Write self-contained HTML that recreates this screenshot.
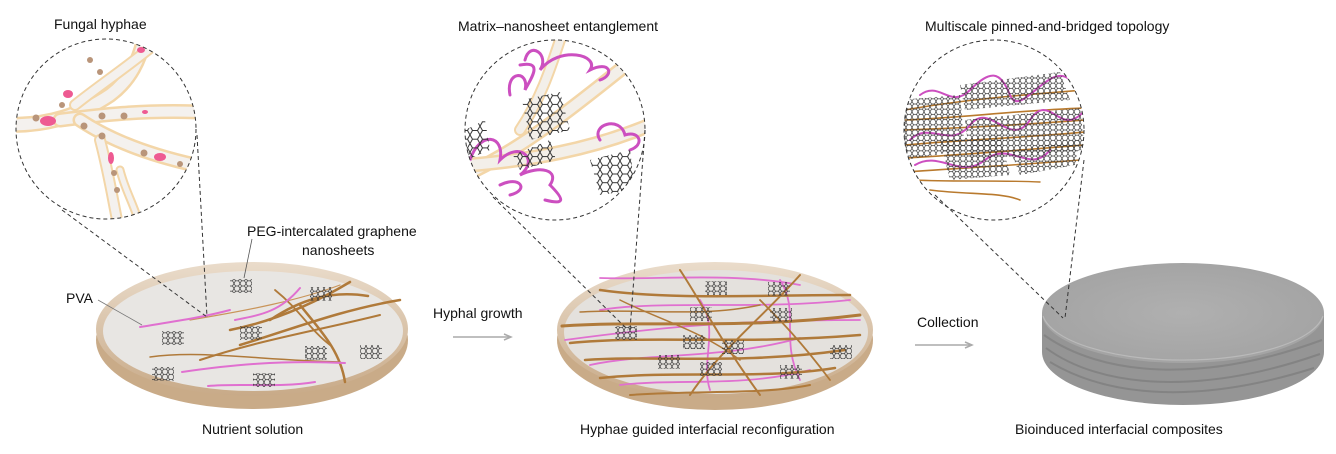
<!DOCTYPE html>
<html><head><meta charset="utf-8"><style>
html,body{margin:0;padding:0;background:#fff;}
svg{display:block}
text{font-family:"Liberation Sans",Arial,sans-serif;font-size:14px;fill:#111}
</style></head><body>
<svg width="1336" height="454" viewBox="0 0 1336 454" xmlns="http://www.w3.org/2000/svg">
<defs>
<pattern id="hex" width="6" height="5.2" patternUnits="userSpaceOnUse">
<path d="M0 2.6 L1.5 0 L4.5 0 L6 2.6 L4.5 5.2 L1.5 5.2 Z" fill="none" stroke="#333" stroke-width="0.7"/>
</pattern>
<pattern id="hexb" width="10" height="8.7" patternUnits="userSpaceOnUse">
<path d="M0 4.35 L2.5 0 L7.5 0 L10 4.35 L7.5 8.7 L2.5 8.7 Z" fill="none" stroke="#333" stroke-width="1"/>
</pattern>
<linearGradient id="rim" x1="0" y1="0" x2="0" y2="1"><stop offset="0" stop-color="#eadccb"/><stop offset="1" stop-color="#c8aa88"/></linearGradient>
<radialGradient id="top3" cx="0.5" cy="0.5" r="0.6"><stop offset="0" stop-color="#b0b0b0"/><stop offset="1" stop-color="#a2a2a2"/></radialGradient>
<clipPath id="c1"><circle cx="106" cy="129" r="90"/></clipPath>
<clipPath id="c2"><circle cx="555" cy="130" r="90"/></clipPath>
<clipPath id="c3"><circle cx="994" cy="130" r="90"/></clipPath>
</defs>

<!-- labels -->
<text x="54" y="29">Fungal hyphae</text>
<text x="458" y="31">Matrix–nanosheet entanglement</text>
<text x="925" y="31">Multiscale pinned-and-bridged topology</text>
<text x="247" y="236">PEG-intercalated graphene</text>
<text x="302" y="255">nanosheets</text>
<text x="66" y="303">PVA</text>
<text x="433" y="318">Hyphal growth</text>
<text x="917" y="327">Collection</text>
<text x="202" y="434">Nutrient solution</text>
<text x="580" y="434">Hyphae guided interfacial reconfiguration</text>
<text x="1015" y="434">Bioinduced interfacial composites</text>

<!-- arrows -->
<line x1="453" y1="337" x2="510" y2="337" stroke="#aaa" stroke-width="1.5"/>
<path d="M504 334 L511 337 L504 340" fill="none" stroke="#aaa" stroke-width="1.5"/>
<line x1="915" y1="345" x2="970" y2="345" stroke="#aaa" stroke-width="1.5"/>
<path d="M965 342 L972 345 L965 348" fill="none" stroke="#aaa" stroke-width="1.5"/>

<!-- dish 1 -->
<ellipse cx="252" cy="340" rx="156" ry="69" fill="#c9ab88"/>
<ellipse cx="252" cy="329" rx="156" ry="67" fill="url(#rim)"/>
<ellipse cx="253" cy="331" rx="150" ry="60" fill="#e8e6e3"/>
<g fill="none" stroke-linecap="round">
<path d="M190 320 C250 310 300 300 340 285" stroke="#c9955a" stroke-width="1.2"/>
<path d="M230 330 C280 320 320 300 350 282" stroke="#b07a3a" stroke-width="2.5"/>
<path d="M240 345 C290 330 340 310 400 300" stroke="#b07a3a" stroke-width="2.5"/>
<path d="M200 360 C260 340 320 330 380 315" stroke="#b07a3a" stroke-width="2"/>
<path d="M270 320 C300 300 330 290 368 296" stroke="#b07a3a" stroke-width="2.5"/>
<path d="M300 305 C320 330 340 350 345 382" stroke="#b07a3a" stroke-width="2.5"/>
<path d="M275 290 C300 310 310 330 330 345" stroke="#b07a3a" stroke-width="1.8"/>
<path d="M150 357 C200 350 260 360 340 362" stroke="#b07a3a" stroke-width="1.5"/>
<path d="M140 327 C170 322 200 318 230 310" stroke="#e070d0" stroke-width="2"/>
<path d="M235 320 C260 315 280 312 300 288" stroke="#e070d0" stroke-width="2"/>
<path d="M182 372 C230 365 280 360 345 363" stroke="#e070d0" stroke-width="2"/>
<path d="M208 386 C240 383 280 388 315 382" stroke="#e070d0" stroke-width="2"/>
</g>
<g fill="url(#hex)">
<rect x="230" y="279" width="22" height="14"/><rect x="310" y="287" width="22" height="14"/>
<rect x="240" y="326" width="22" height="14"/><rect x="162" y="331" width="22" height="14"/>
<rect x="152" y="367" width="22" height="14"/><rect x="253" y="373" width="22" height="14"/>
<rect x="305" y="346" width="22" height="14"/><rect x="360" y="345" width="22" height="14"/>
</g>
<line x1="98" y1="300" x2="142" y2="325" stroke="#777" stroke-width="0.8"/>
<line x1="252" y1="239" x2="244" y2="278" stroke="#555" stroke-width="0.8"/>

<!-- circle 1 -->
<g clip-path="url(#c1)">
<rect x="10" y="35" width="200" height="190" fill="#fff"/>
<g fill="none" stroke-linecap="round">
<path d="M10 125 C50 125 80 115 110 95 C130 80 140 60 145 35" stroke="#f3d6a8" stroke-width="16"/>
<path d="M10 125 C50 125 80 115 110 95 C130 80 140 60 145 35" stroke="#f4f1ee" stroke-width="11"/>
<path d="M60 120 C100 115 140 110 200 112" stroke="#f3d6a8" stroke-width="15"/>
<path d="M60 120 C100 115 140 110 200 112" stroke="#f4f1ee" stroke-width="10"/>
<path d="M80 120 C110 140 150 155 195 165" stroke="#f3d6a8" stroke-width="15"/>
<path d="M80 120 C110 140 150 155 195 165" stroke="#f4f1ee" stroke-width="10"/>
<path d="M100 140 C108 170 112 195 118 225" stroke="#f3d6a8" stroke-width="12"/>
<path d="M100 140 C108 170 112 195 118 225" stroke="#f4f1ee" stroke-width="8"/>
<path d="M120 170 C125 190 132 200 140 225" stroke="#f3d6a8" stroke-width="9"/>
<path d="M120 170 C125 190 132 200 140 225" stroke="#f4f1ee" stroke-width="5"/>
<path d="M75 105 C100 85 130 65 160 40" stroke="#f3d6a8" stroke-width="12"/>
<path d="M75 105 C100 85 130 65 160 40" stroke="#f4f1ee" stroke-width="8"/>
</g>
<g fill="#b9957a"><circle cx="36" cy="118" r="3.5"/><circle cx="62" cy="105" r="3"/><circle cx="84" cy="126" r="3.5"/><circle cx="102" cy="116" r="3.5"/><circle cx="124" cy="116" r="3.5"/><circle cx="102" cy="136" r="3.5"/><circle cx="144" cy="153" r="3.5"/><circle cx="180" cy="164" r="3"/><circle cx="114" cy="173" r="3"/><circle cx="117" cy="190" r="3"/><circle cx="90" cy="60" r="3"/><circle cx="100" cy="72" r="3"/></g>
<g fill="#ee5a92"><ellipse cx="48" cy="121" rx="8" ry="5"/><ellipse cx="68" cy="94" rx="5" ry="4"/><ellipse cx="160" cy="157" rx="6" ry="4"/><ellipse cx="111" cy="158" rx="3" ry="6"/><ellipse cx="141" cy="50" rx="4" ry="3"/><ellipse cx="145" cy="112" rx="3" ry="2"/></g>
</g>
<circle cx="106" cy="129" r="90" fill="none" stroke="#333" stroke-width="1" stroke-dasharray="4 3"/>
<line x1="62" y1="210" x2="207" y2="317" stroke="#333" stroke-dasharray="4 3"/>
<line x1="197" y1="135" x2="207" y2="317" stroke="#333" stroke-dasharray="4 3"/>

<!-- dish 2 -->
<ellipse cx="715" cy="340" rx="158" ry="70" fill="#c9ab88"/>
<ellipse cx="715" cy="330" rx="158" ry="68" fill="url(#rim)"/>
<ellipse cx="716" cy="332" rx="152" ry="62" fill="#e4e1dd"/>
<g fill="none" stroke-linecap="round">
<path d="M600 278 C660 280 730 272 800 285" stroke="#e070d0" stroke-width="1.8"/>
<path d="M565 340 C640 330 720 320 860 320" stroke="#e070d0" stroke-width="1.8"/>
<path d="M590 365 C650 352 720 360 800 338" stroke="#e070d0" stroke-width="1.8"/>
<path d="M620 385 C680 378 740 388 810 370" stroke="#e070d0" stroke-width="1.8"/>
<path d="M600 310 C660 300 760 310 850 300" stroke="#e070d0" stroke-width="1.8"/>
<path d="M700 300 C720 330 700 360 710 390" stroke="#e070d0" stroke-width="1.8"/>
<path d="M780 280 C800 310 780 340 800 380" stroke="#e070d0" stroke-width="1.8"/>
<path d="M600 290 C670 300 760 295 850 295" stroke="#b07a3a" stroke-width="2.5"/>
<path d="M562 326 C650 320 740 330 860 315" stroke="#b07a3a" stroke-width="3"/>
<path d="M570 343 C650 335 740 345 860 335" stroke="#b07a3a" stroke-width="2.5"/>
<path d="M585 360 C660 355 740 365 845 350" stroke="#b07a3a" stroke-width="2.5"/>
<path d="M600 378 C680 370 760 380 835 368" stroke="#b07a3a" stroke-width="2.5"/>
<path d="M630 395 C700 390 760 395 810 385" stroke="#b07a3a" stroke-width="2"/>
<path d="M680 270 C700 300 720 340 760 395" stroke="#b07a3a" stroke-width="2"/>
<path d="M800 275 C760 320 720 350 690 395" stroke="#b07a3a" stroke-width="2"/>
<path d="M620 300 C660 320 700 330 740 360" stroke="#b07a3a" stroke-width="1.5"/>
<path d="M760 300 C780 320 800 340 830 380" stroke="#b07a3a" stroke-width="1.8"/>
<path d="M580 312 C640 308 700 318 760 305" stroke="#b07a3a" stroke-width="1.5"/>
</g>
<g fill="url(#hex)">
<rect x="705" y="281" width="22" height="14"/><rect x="768" y="282" width="22" height="14"/>
<rect x="690" y="307" width="22" height="14"/><rect x="770" y="308" width="22" height="14"/>
<rect x="615" y="326" width="22" height="14"/><rect x="683" y="335" width="22" height="14"/>
<rect x="722" y="340" width="22" height="14"/><rect x="658" y="355" width="22" height="14"/>
<rect x="700" y="362" width="22" height="14"/><rect x="780" y="365" width="22" height="14"/>
<rect x="830" y="345" width="22" height="14"/>
</g>

<!-- circle 2 -->
<g clip-path="url(#c2)">
<rect x="460" y="35" width="190" height="190" fill="#fff"/>
<g fill="none" stroke-linecap="round">
<path d="M465 175 C520 150 570 110 620 70" stroke="#f3d6a8" stroke-width="15"/>
<path d="M465 175 C520 150 570 110 620 70" stroke="#f3efe9" stroke-width="10"/>
<path d="M470 165 C530 160 590 150 650 125" stroke="#f3d6a8" stroke-width="15"/>
<path d="M470 165 C530 160 590 150 650 125" stroke="#f3efe9" stroke-width="10"/>
<path d="M560 40 C550 70 540 100 520 130" stroke="#f3d6a8" stroke-width="12"/>
<path d="M560 40 C550 70 540 100 520 130" stroke="#f3efe9" stroke-width="8"/>
<path d="M525 60 C530 40 550 55 540 70 C560 45 600 55 590 70 C610 60 615 75 600 80" stroke="#cc4fc0" stroke-width="3"/>
<path d="M510 95 C505 70 530 70 525 90 C530 80 545 60 520 65" stroke="#cc4fc0" stroke-width="3"/>
<path d="M470 160 C480 130 505 135 500 160 C520 140 540 160 520 175 C540 165 560 170 550 185 C565 200 565 205 545 200" stroke="#cc4fc0" stroke-width="3"/>
<path d="M600 140 C590 125 620 115 625 135 C640 130 645 145 630 150" stroke="#cc4fc0" stroke-width="3"/>
<path d="M500 185 C520 175 530 190 510 195" stroke="#cc4fc0" stroke-width="3"/>
</g>
<g fill="url(#hexb)">
<polygon points="522,100 560,92 570,130 530,140"/>
<polygon points="590,160 630,150 635,190 600,195"/>
<polygon points="465,130 485,120 490,150 466,160"/>
<polygon points="513,155 550,140 556,160 520,170"/>
</g>
</g>
<circle cx="555" cy="130" r="90" fill="none" stroke="#333" stroke-width="1" stroke-dasharray="4 3"/>
<line x1="493" y1="197" x2="628" y2="330" stroke="#333" stroke-dasharray="4 3"/>
<line x1="645" y1="130" x2="630" y2="330" stroke="#333" stroke-dasharray="4 3"/>

<!-- dish 3 cylinder -->
<path d="M1042 313 L1042 352 A141 53 0 0 0 1324 352 L1324 313 Z" fill="#959595"/>
<path d="M1044 335 C1100 375 1200 385 1322 340" fill="none" stroke="#858585" stroke-width="2"/>
<path d="M1046 348 C1100 388 1200 396 1320 354" fill="none" stroke="#838383" stroke-width="2"/>
<path d="M1050 362 C1110 398 1200 404 1314 368" fill="none" stroke="#838383" stroke-width="2"/>
<ellipse cx="1183" cy="313" rx="141" ry="50" fill="url(#top3)"/>
<path d="M1043 316 A141 50 0 0 0 1323 316" fill="none" stroke="#bababa" stroke-width="1.2"/>

<!-- circle 3 -->
<g clip-path="url(#c3)">
<rect x="900" y="35" width="190" height="190" fill="#fff"/>
<g fill="none" stroke-linecap="round">
<path d="M905 110 C960 100 1020 95 1085 90" stroke="#b97a2e" stroke-width="1.6"/>
<path d="M905 120 C960 118 1020 110 1085 108" stroke="#b97a2e" stroke-width="1.6"/>
<path d="M905 130 C960 128 1020 125 1085 120" stroke="#b97a2e" stroke-width="1.6"/>
<path d="M905 145 C960 140 1020 138 1085 132" stroke="#b97a2e" stroke-width="1.6"/>
<path d="M905 158 C960 155 1020 150 1085 145" stroke="#b97a2e" stroke-width="1.6"/>
<path d="M905 172 C960 168 1020 165 1080 160" stroke="#b97a2e" stroke-width="1.6"/>
<path d="M930 190 C970 195 1000 192 1020 200" stroke="#b97a2e" stroke-width="1.6"/>
<path d="M915 180 C950 182 990 180 1040 182" stroke="#b97a2e" stroke-width="1.4"/>
<path d="M920 95 C940 80 950 110 970 90 S1000 70 1010 95 S1050 60 1070 80" stroke="#cc4fc0" stroke-width="2"/>
<path d="M910 140 C930 120 950 150 970 125 S1010 150 1030 120 S1060 140 1085 110" stroke="#cc4fc0" stroke-width="2"/>
<path d="M915 165 C940 150 960 180 985 160 S1030 175 1050 150" stroke="#cc4fc0" stroke-width="2"/>
</g>
<g fill="url(#hex)">
<polygon points="960,85 1060,72 1070,100 965,110"/>
<polygon points="900,100 960,95 965,150 905,160"/>
<polygon points="965,120 1080,108 1085,150 970,160"/>
<polygon points="940,140 1000,135 1010,175 950,180"/>
<polygon points="1010,150 1080,140 1075,165 1020,175"/>
</g>
</g>
<circle cx="994" cy="130" r="90" fill="none" stroke="#333" stroke-width="1" stroke-dasharray="4 3"/>
<line x1="935" y1="195" x2="1063" y2="318" stroke="#333" stroke-dasharray="4 3"/>
<line x1="1084" y1="160" x2="1065" y2="318" stroke="#333" stroke-dasharray="4 3"/>
</svg>
</body></html>
